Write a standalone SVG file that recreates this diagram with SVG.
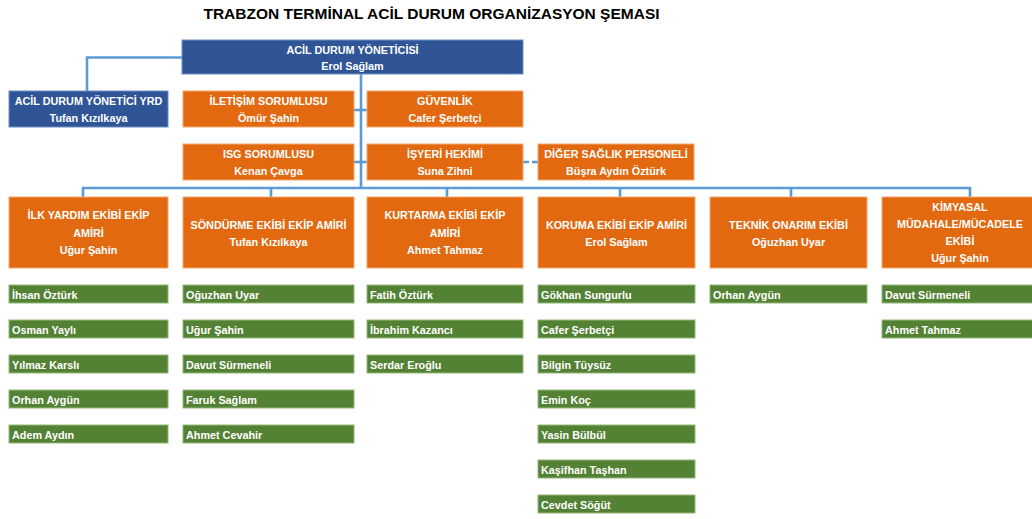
<svg xmlns="http://www.w3.org/2000/svg" width="1032" height="519" viewBox="0 0 1032 519">
<style>
.bl{fill:#2F5597;stroke:#6F8FC4;stroke-width:1}
.or{fill:#E2690F;stroke:#F3A872;stroke-width:1}
.gr{fill:#548235;stroke:#93B878;stroke-width:1}
.t{font-family:"Liberation Sans",Arial,sans-serif;font-weight:bold;font-size:10.8px;fill:#fff;text-anchor:middle}
.g{font-family:"Liberation Sans",Arial,sans-serif;font-weight:bold;font-size:10.8px;fill:#fff}
.c{fill:none;stroke:#5B9BD5;stroke-width:2.6}
</style>
<rect width="1032" height="519" fill="#fff"/>
<text x="431.5" y="19" font-family="Liberation Sans, Arial, sans-serif" font-weight="bold" font-size="15.5" fill="#000" text-anchor="middle">TRABZON TERMİNAL ACİL DURUM ORGANİZASYON ŞEMASI</text>
<g id="connectors">
<path class="c" d="M182,57.5 H87 V91"/>
<path class="c" d="M361,74 V188"/>
<path class="c" d="M354,110 H367"/>
<path class="c" d="M354,162 H367"/>
<path class="c" d="M523,162 H538" stroke-dasharray="6 3"/>
<path class="c" d="M83,197 V188 H970 V197"/>
<path class="c" d="M271,188 V197 M447,188 V197 M620,188 V197 M791,188 V197"/>
</g>
<g id="n-yonetici"><rect class="bl" x="182" y="40" width="341" height="34"/><text class="t" x="352.5" y="54">ACİL DURUM YÖNETİCİSİ</text><text class="t" x="352.5" y="70">Erol Sağlam</text></g>
<g id="n-yrd"><rect class="bl" x="9" y="91" width="159" height="36"/><text class="t" x="88.5" y="105">ACİL DURUM YÖNETİCİ YRD</text><text class="t" x="88.5" y="122">Tufan Kızılkaya</text></g>
<g id="n-iletisim"><rect class="or" x="183" y="91" width="171" height="36"/><text class="t" x="268.5" y="105">İLETİŞİM SORUMLUSU</text><text class="t" x="268.5" y="122">Ömür Şahin</text></g>
<g id="n-guvenlik"><rect class="or" x="367" y="91" width="156" height="36"/><text class="t" x="445" y="105">GÜVENLİK</text><text class="t" x="445" y="122">Cafer Şerbetçi</text></g>
<g id="n-isg"><rect class="or" x="183" y="144" width="171" height="36"/><text class="t" x="268.5" y="158">ISG SORUMLUSU</text><text class="t" x="268.5" y="175">Kenan Çavga</text></g>
<g id="n-isyeri"><rect class="or" x="367" y="144" width="156" height="36"/><text class="t" x="445" y="158">İŞYERİ HEKİMİ</text><text class="t" x="445" y="175">Suna Zihni</text></g>
<g id="n-diger"><rect class="or" x="538" y="144" width="156" height="36"/><text class="t" x="616" y="158">DİĞER SAĞLIK PERSONELİ</text><text class="t" x="616" y="175">Büşra Aydın Öztürk</text></g>
<g id="n-ilkyardim"><rect class="or" x="9" y="197" width="159" height="71"/><text class="t" x="88.5" y="219">İLK YARDIM EKİBİ EKİP</text><text class="t" x="88.5" y="236.5">AMİRİ</text><text class="t" x="88.5" y="254">Uğur Şahin</text></g>
<g id="n-sondurme"><rect class="or" x="183" y="197" width="171" height="71"/><text class="t" x="268.5" y="228.5">SÖNDÜRME EKİBİ EKİP AMİRİ</text><text class="t" x="268.5" y="245.5">Tufan Kızılkaya</text></g>
<g id="n-kurtarma"><rect class="or" x="367" y="197" width="156" height="71"/><text class="t" x="445" y="219">KURTARMA EKİBİ EKİP</text><text class="t" x="445" y="236.5">AMİRİ</text><text class="t" x="445" y="254">Ahmet Tahmaz</text></g>
<g id="n-koruma"><rect class="or" x="538" y="197" width="157" height="71"/><text class="t" x="616.5" y="228.5">KORUMA EKİBİ EKİP AMİRİ</text><text class="t" x="616.5" y="245.5">Erol Sağlam</text></g>
<g id="n-teknik"><rect class="or" x="710" y="197" width="157" height="71"/><text class="t" x="788.5" y="228.5">TEKNİK ONARIM EKİBİ</text><text class="t" x="788.5" y="245.5">Oğuzhan Uyar</text></g>
<g id="n-kimyasal"><rect class="or" x="882" y="197" width="156" height="71"/><text class="t" x="960" y="211">KİMYASAL</text><text class="t" x="960" y="228">MÜDAHALE/MÜCADELE</text><text class="t" x="960" y="245">EKİBİ</text><text class="t" x="960" y="262">Uğur Şahin</text></g>
<g id="col1">
<g id="m1-1"><rect class="gr" x="9" y="285" width="159" height="18"/><text class="g" x="12" y="299">İhsan Öztürk</text></g>
<g id="m1-2"><rect class="gr" x="9" y="320" width="159" height="18"/><text class="g" x="12" y="334">Osman Yaylı</text></g>
<g id="m1-3"><rect class="gr" x="9" y="355" width="159" height="18"/><text class="g" x="12" y="369">Yılmaz Karslı</text></g>
<g id="m1-4"><rect class="gr" x="9" y="390" width="159" height="18"/><text class="g" x="12" y="404">Orhan Aygün</text></g>
<g id="m1-5"><rect class="gr" x="9" y="425" width="159" height="18"/><text class="g" x="12" y="439">Adem Aydın</text></g>
</g>
<g id="col2">
<g id="m2-1"><rect class="gr" x="183" y="285" width="171" height="18"/><text class="g" x="186" y="299">Oğuzhan Uyar</text></g>
<g id="m2-2"><rect class="gr" x="183" y="320" width="171" height="18"/><text class="g" x="186" y="334">Uğur Şahin</text></g>
<g id="m2-3"><rect class="gr" x="183" y="355" width="171" height="18"/><text class="g" x="186" y="369">Davut Sürmeneli</text></g>
<g id="m2-4"><rect class="gr" x="183" y="390" width="171" height="18"/><text class="g" x="186" y="404">Faruk Sağlam</text></g>
<g id="m2-5"><rect class="gr" x="183" y="425" width="171" height="18"/><text class="g" x="186" y="439">Ahmet Cevahir</text></g>
</g>
<g id="col3">
<g id="m3-1"><rect class="gr" x="367" y="285" width="156" height="18"/><text class="g" x="370" y="299">Fatih Öztürk</text></g>
<g id="m3-2"><rect class="gr" x="367" y="320" width="156" height="18"/><text class="g" x="370" y="334">İbrahim Kazancı</text></g>
<g id="m3-3"><rect class="gr" x="367" y="355" width="156" height="18"/><text class="g" x="370" y="369">Serdar Eroğlu</text></g>
</g>
<g id="col4">
<g id="m4-1"><rect class="gr" x="538" y="285" width="157" height="18"/><text class="g" x="541" y="299">Gökhan Sungurlu</text></g>
<g id="m4-2"><rect class="gr" x="538" y="320" width="157" height="18"/><text class="g" x="541" y="334">Cafer Şerbetçi</text></g>
<g id="m4-3"><rect class="gr" x="538" y="355" width="157" height="18"/><text class="g" x="541" y="369">Bilgin Tüysüz</text></g>
<g id="m4-4"><rect class="gr" x="538" y="390" width="157" height="18"/><text class="g" x="541" y="404">Emin Koç</text></g>
<g id="m4-5"><rect class="gr" x="538" y="425" width="157" height="18"/><text class="g" x="541" y="439">Yasin Bülbül</text></g>
<g id="m4-6"><rect class="gr" x="538" y="460" width="157" height="18"/><text class="g" x="541" y="474">Kaşifhan Taşhan</text></g>
<g id="m4-7"><rect class="gr" x="538" y="495" width="157" height="18"/><text class="g" x="541" y="509">Cevdet Söğüt</text></g>
</g>
<g id="col5">
<g id="m5-1"><rect class="gr" x="710" y="285" width="157" height="18"/><text class="g" x="713" y="299">Orhan Aygün</text></g>
</g>
<g id="col6">
<g id="m6-1"><rect class="gr" x="882" y="285" width="156" height="18"/><text class="g" x="885" y="299">Davut Sürmeneli</text></g>
<g id="m6-2"><rect class="gr" x="882" y="320" width="156" height="18"/><text class="g" x="885" y="334">Ahmet Tahmaz</text></g>
</g>
</svg>
